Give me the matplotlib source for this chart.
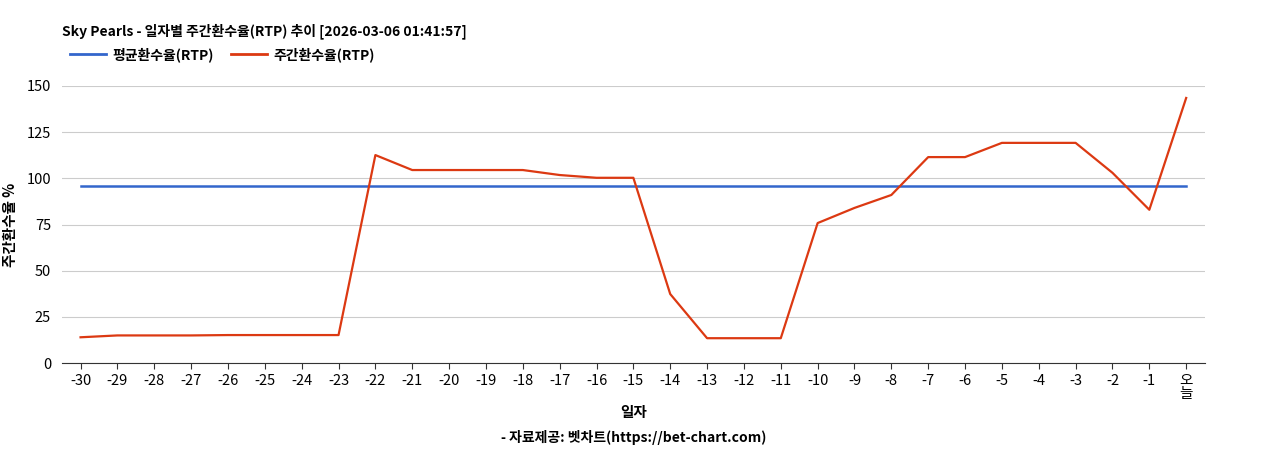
import matplotlib
matplotlib.use("Agg")
import matplotlib.pyplot as plt
from matplotlib.lines import Line2D

plt.rcParams["font.family"] = ["Noto Sans CJK KR", "DejaVu Sans"]

days = [str(d) for d in range(-30, 0)] + ["오\n늘"]
weekly_rtp = [14, 15, 15, 15, 15.2, 15.2, 15.2, 15.2, 112.6, 104.5, 104.5, 104.5,
              104.5, 101.8, 100.3, 100.3, 37.4, 13.5, 13.5, 13.5, 75.8, 84, 91,
              111.5, 111.5, 119.2, 119.2, 119.2, 103, 83, 143.5]
avg_rtp = 95.8

BLUE = "#3366cc"
RED = "#dc3912"

fig = plt.figure(figsize=(12.68, 4.5), dpi=100)
ax = fig.add_axes([0.049, 0.193, 0.901, 0.616])

x = list(range(len(days)))
ax.plot(x, [avg_rtp] * len(x), color=BLUE, lw=1.8)
ax.plot(x, weekly_rtp, color=RED, lw=1.6)

ax.set_xlim(-0.5, len(days) - 0.5)
ax.set_ylim(0, 150)
ax.set_yticks([0, 25, 50, 75, 100, 125, 150])
ax.set_xticks(x)
ax.set_xticklabels(days, fontsize=10.5, linespacing=0.95)
ax.tick_params(axis="y", labelsize=10.5, length=0, pad=8)
ax.tick_params(axis="x", length=4, color="#333333")
ax.grid(axis="y", color="#cccccc", lw=0.8)
ax.set_axisbelow(True)
for s in ["top", "right", "left"]:
    ax.spines[s].set_visible(False)
ax.spines["bottom"].set_color("#333333")

ax.set_ylabel("주간환수율 %", fontsize=10.5, fontweight="bold", labelpad=6)
ax.set_xlabel("일자", fontsize=10.5, fontweight="bold", labelpad=2)

fig.text(0.049, 0.93, "Sky Pearls - 일자별 주간환수율(RTP) 추이 [2026-03-06 01:41:57]",
         fontsize=10, fontweight="bold", va="center")
handles = [Line2D([0], [0], color=BLUE, lw=2, label="평균환수율(RTP)"),
           Line2D([0], [0], color=RED, lw=2, label="주간환수율(RTP)")]
fig.legend(handles=handles, loc="center left", bbox_to_anchor=(0.045, 0.878),
           ncol=2, frameon=False, prop={"weight": "bold", "size": 10},
           handlelength=2.6, columnspacing=1.2, handletextpad=0.5)
fig.text(0.5, 0.028, "- 자료제공: 벳차트(https://bet-chart.com)",
         fontsize=10, fontweight="bold", ha="center", va="center")

fig.savefig("out.png", dpi=100)
